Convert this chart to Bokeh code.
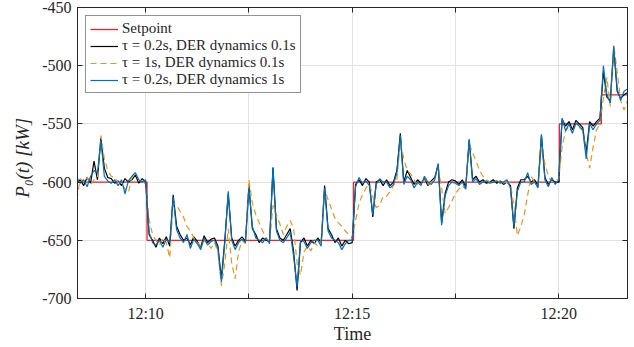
from bokeh.plotting import figure
from bokeh.models import FixedTicker, Range1d, Legend, LegendItem, LinearAxis
from bokeh.embed import file_html
from bokeh.resources import INLINE

# time in seconds after 12:00:00, sampled every 5 s from 12:08:20
time_s = list(range(500, 1305, 5))

setpoint_t = [500, 602, 902, 1201, 1262, 1300]
setpoint_v = [-600, -650, -600, -550, -525, -525]

black_v = [
    -600, -598, -603, -596, -601, -582, -598, -562, -588, -596,
    -597, -601, -599, -603, -597, -600, -598, -594, -601, -597,
    -600, -645, -650, -656, -648, -653, -647, -655, -611, -638,
    -645, -650, -648, -654, -647, -651, -656, -646, -652, -649,
    -648, -655, -683, -650, -610, -648, -655, -650, -647, -651,
    -603, -640, -645, -652, -648, -650, -651, -588, -640, -648,
    -650, -645, -640, -660, -693, -652, -648, -655, -650, -653,
    -648, -652, -603, -640, -645, -652, -648, -655, -650, -653,
    -652, -602, -598, -603, -597, -600, -630, -600, -598, -603,
    -598, -603, -600, -590, -558, -600, -590, -596, -602, -598,
    -601, -597, -603, -599, -596, -585, -635, -610, -600, -598,
    -599, -602, -598, -604, -564, -598, -595, -600, -598, -601,
    -600, -598, -601, -599, -602, -600, -603, -640, -605, -598,
    -598, -595, -600, -598, -603, -560, -596, -602, -598, -600,
    -600, -546, -552, -548, -555, -547, -550, -553, -575, -548,
    -552, -548, -545, -505, -527, -530, -485, -522, -528, -525,
    -523,
]

blue_v = [
    -596, -601, -598, -604, -595, -590, -592, -564, -595, -599,
    -601, -598, -603, -598, -610, -599, -595, -592, -598, -600,
    -598, -643, -652, -654, -650, -656, -649, -652, -613, -641,
    -648, -652, -645, -657, -649, -653, -658, -648, -654, -651,
    -650, -657, -686, -652, -608, -650, -658, -652, -649, -652,
    -605, -638, -648, -650, -652, -648, -653, -587, -642, -650,
    -652, -648, -643, -664, -690, -650, -651, -657, -652, -650,
    -650, -655, -605, -642, -648, -650, -652, -658, -653, -650,
    -650, -604, -596, -601, -599, -603, -628, -602, -597, -600,
    -600, -605, -602, -592, -560, -602, -595, -598, -605, -600,
    -603, -595, -600, -602, -598, -584, -637, -612, -603, -600,
    -601, -603, -600, -606, -563, -600, -597, -602, -600, -599,
    -601, -600, -599, -601, -600, -598, -605, -638, -608, -600,
    -600, -592, -602, -600, -605, -559, -598, -604, -596, -602,
    -598, -545, -556, -550, -558, -549, -552, -555, -580, -550,
    -555, -550, -547, -500, -525, -532, -483, -520, -530, -522,
    -520,
]

orange_v = [
    -615, -597, -600, -596, -602, -598, -596, -560, -580, -590,
    -595, -596, -600, -601, -606, -609, -596, -592, -598, -599,
    -602, -632, -645, -650, -654, -648, -652, -665, -618, -620,
    -625, -630, -638, -642, -648, -652, -655, -650, -653, -657,
    -652, -660, -689, -670, -640, -670, -683, -660, -650, -653,
    -598, -618, -628, -635, -642, -648, -652, -620, -628, -636,
    -645, -638, -633, -640, -670, -680, -660, -655, -659, -652,
    -655, -650, -606, -615, -623, -631, -635, -638, -642, -645,
    -648, -633, -618, -611, -605, -602, -612, -622, -620, -612,
    -612, -608, -603, -598, -565, -580, -590, -593, -598, -602,
    -600, -598, -602, -600, -597, -588, -605, -627, -622, -616,
    -610, -606, -603, -606, -567, -575, -582, -590, -595, -598,
    -600, -601, -599, -600, -601, -600, -602, -620, -646, -638,
    -628, -611, -595, -600, -602, -570, -584, -595, -600, -598,
    -598, -570, -556, -552, -558, -550, -553, -556, -575, -588,
    -570, -555, -550, -528, -510, -535, -482, -505, -530, -538,
    -530,
]

x_label_pos = [600, 900, 1200]
x_label_txt = ["12:10", "12:15", "12:20"]
x_mid_pos = [750, 1050]
x_grid_pos = [600, 750, 900, 1050, 1200]
y_tick_pos = [-700, -650, -600, -550, -500, -450]
y_tick_lab = ["-700", "-650", "-600", "-550", "-500", "-450"]

series_names = [
    "Setpoint",
    "τ = 0.2s, DER dynamics 0.1s",
    "τ = 1s, DER dynamics 0.1s",
    "τ = 0.2s, DER dynamics 1s",
]

FONT = "Liberation Serif"
INK = "#262626"

p = figure(width=634, height=347, output_backend="svg", toolbar_location=None,
           x_range=Range1d(501, 1300), y_range=Range1d(-700, -450),
           min_border_left=77, min_border_right=7, min_border_top=7,
           min_border_bottom=49)

p.background_fill_color = "white"
p.border_fill_color = "white"
p.outline_line_color = INK
p.outline_line_width = 1

r_set = p.step(setpoint_t, setpoint_v, mode="after", line_color="#E8262B", line_width=1.3)
r_blk = p.line(time_s, black_v, line_color="black", line_width=1.2)
r_org = p.line(time_s, orange_v, line_color="#E8961E", line_width=1.2, line_dash="6 4")
r_blu = p.line(time_s, blue_v, line_color="#0072BD", line_width=1.2)

p.xaxis.ticker = FixedTicker(ticks=x_label_pos, minor_ticks=x_mid_pos)
p.xaxis.major_label_overrides = dict(zip(x_label_pos, x_label_txt))
p.yaxis.ticker = FixedTicker(ticks=y_tick_pos)
p.yaxis.major_label_overrides = dict(zip(y_tick_pos, y_tick_lab))

for ax in (p.xaxis[0], p.yaxis[0]):
    ax.axis_line_color = INK
    ax.major_tick_line_color = INK
    ax.major_tick_in = 5
    ax.major_tick_out = 0
    ax.minor_tick_line_color = INK
    ax.minor_tick_in = 5
    ax.minor_tick_out = 0
    ax.major_label_text_font = FONT
    ax.major_label_text_font_size = "16px"
    ax.major_label_text_color = INK
    ax.axis_label_text_font = FONT
    ax.axis_label_text_color = INK

p.xaxis.axis_label = "Time"
p.xaxis.axis_label_text_font_size = "18px"
p.xaxis.axis_label_text_font_style = "normal"
p.xaxis.major_label_standoff = 6
p.xaxis.axis_label_standoff = -1
p.yaxis.axis_label = "P₀(t)   [kW]"
p.yaxis.axis_label_text_font_size = "19px"
p.yaxis.axis_label_text_font_style = "italic"
p.yaxis.major_label_standoff = 6
p.yaxis.axis_label_standoff = 6

# box ticks on the top and right edges (tick marks only, no labels)
top_ax = LinearAxis(ticker=FixedTicker(ticks=[], minor_ticks=x_grid_pos),
                    minor_tick_in=5, minor_tick_out=0, major_tick_in=0, major_tick_out=0,
                    axis_line_color=INK, minor_tick_line_color=INK,
                    major_label_standoff=0)
right_ax = LinearAxis(ticker=FixedTicker(ticks=[], minor_ticks=y_tick_pos),
                      minor_tick_in=5, minor_tick_out=0, major_tick_in=0, major_tick_out=0,
                      axis_line_color=INK, minor_tick_line_color=INK,
                      major_label_standoff=0)
p.add_layout(top_ax, "above")
p.add_layout(right_ax, "right")

p.xgrid.ticker = FixedTicker(ticks=x_grid_pos)
p.ygrid.ticker = FixedTicker(ticks=y_tick_pos)
p.xgrid.grid_line_color = "#E3E3E3"
p.ygrid.grid_line_color = "#E3E3E3"

legend = Legend(items=[
    LegendItem(label=series_names[0], renderers=[r_set]),
    LegendItem(label=series_names[1], renderers=[r_blk]),
    LegendItem(label=series_names[2], renderers=[r_org]),
    LegendItem(label=series_names[3], renderers=[r_blu]),
], location="top_left")
legend.margin = 8
legend.padding = 4
legend.spacing = -2
legend.label_text_font = FONT
legend.label_text_font_size = "15px"
legend.label_text_color = INK
legend.label_height = 16
legend.glyph_height = 16
legend.glyph_width = 28
legend.label_standoff = 4
legend.border_line_color = INK
legend.border_line_width = 1
legend.background_fill_alpha = 1
p.add_layout(legend)

open("out.html", "w").write(file_html(p, INLINE))
